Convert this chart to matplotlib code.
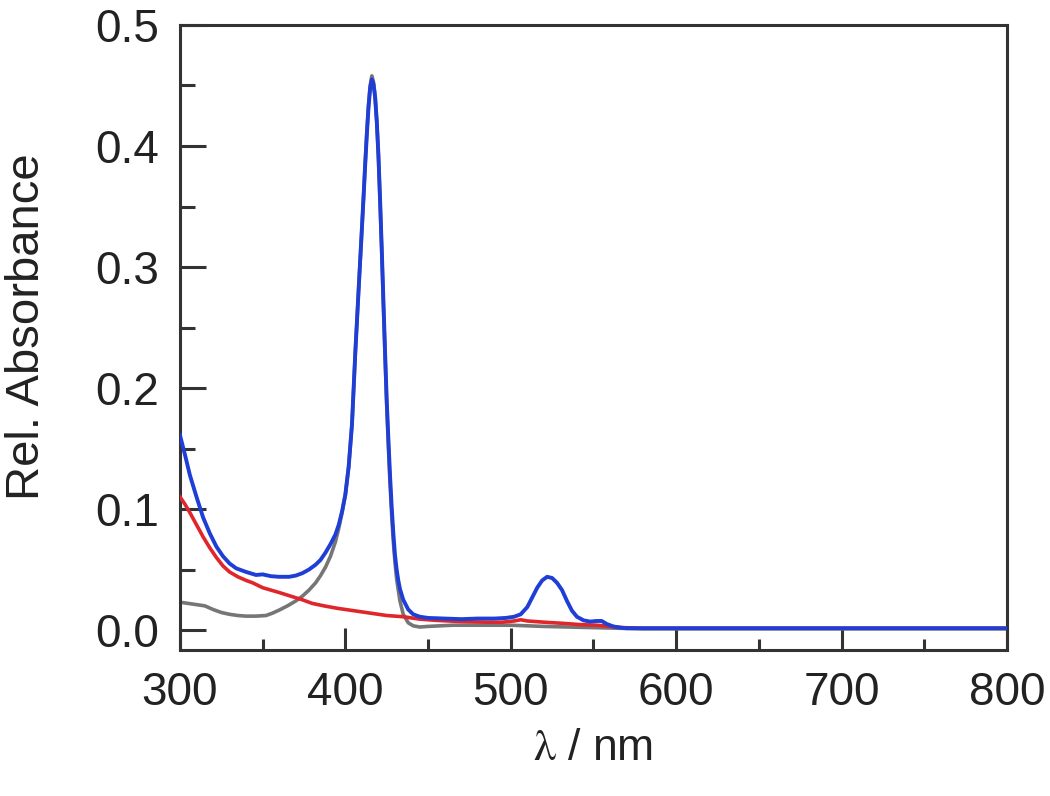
import matplotlib
matplotlib.use("Agg")
import matplotlib.pyplot as plt
from matplotlib.ticker import MultipleLocator

plt.rcParams['font.family'] = ['Liberation Sans', 'DejaVu Sans']
plt.rcParams['mathtext.fontset'] = 'stix'

# ---- data ----
blue_wl = [300, 303, 306, 310, 314, 318, 322, 326, 330, 334, 340, 346, 350, 355, 360, 366,
           370, 374, 378, 382, 385, 388, 391, 394, 396, 398, 400, 402, 404, 406, 408, 410,
           411, 412, 413, 414, 415, 416, 417, 418, 419, 420, 421, 422, 423, 424, 425, 426,
           427, 428, 429, 430, 431, 432, 433, 435, 438, 441, 445, 450, 460, 470, 480, 490,
           497, 502, 506, 510, 513, 516, 519, 522, 525, 528, 531, 534, 537, 540, 544, 548,
           552, 555, 558, 562, 566, 570, 600, 650, 700, 750, 800]
blue_abs = [0.161, 0.145, 0.128, 0.110, 0.093, 0.080, 0.069, 0.061, 0.055, 0.051, 0.048,
            0.0455, 0.046, 0.0445, 0.044, 0.044, 0.045, 0.047, 0.050, 0.054, 0.058, 0.064,
            0.071, 0.079, 0.087, 0.098, 0.112, 0.135, 0.170, 0.229, 0.281, 0.332, 0.358,
            0.385, 0.410, 0.432, 0.448, 0.455, 0.451, 0.440, 0.420, 0.392, 0.355, 0.315,
            0.272, 0.230, 0.190, 0.158, 0.128, 0.102, 0.080, 0.062, 0.050, 0.041, 0.034,
            0.025, 0.017, 0.013, 0.011, 0.010, 0.0095, 0.009, 0.0095, 0.0095, 0.010, 0.011,
            0.013, 0.019, 0.027, 0.035, 0.041, 0.044, 0.043, 0.039, 0.033, 0.024, 0.016,
            0.011, 0.008, 0.007, 0.0075, 0.0075, 0.005, 0.003, 0.002, 0.0015, 0.0015,
            0.0015, 0.0015, 0.0015, 0.0015]

gray_wl = [300, 305, 310, 315, 320, 325, 330, 335, 340, 346, 352, 356, 360, 365, 370, 374,
           378, 382, 385, 388, 391, 394, 396, 398, 400, 402, 404, 406, 408, 410, 411, 412,
           413, 414, 415, 416, 417, 418, 419, 420, 421, 422, 423, 424, 425, 426, 427, 428,
           429, 430, 431, 433, 435, 438, 441, 445, 450, 465, 480, 500, 520, 550, 580, 650,
           700, 800]
gray_abs = [0.023, 0.022, 0.021, 0.020, 0.017, 0.0145, 0.013, 0.012, 0.0115, 0.0115, 0.012,
            0.014, 0.0165, 0.020, 0.024, 0.028, 0.033, 0.039, 0.045, 0.052, 0.061, 0.073,
            0.084, 0.097, 0.112, 0.135, 0.170, 0.229, 0.281, 0.332, 0.358, 0.386, 0.412,
            0.434, 0.450, 0.458, 0.453, 0.441, 0.420, 0.391, 0.353, 0.312, 0.268, 0.226,
            0.186, 0.152, 0.121, 0.095, 0.073, 0.056, 0.042, 0.024, 0.013, 0.006, 0.0035,
            0.0025, 0.003, 0.004, 0.004, 0.004, 0.003, 0.002, 0.001, 0.001, 0.001, 0.001]

red_wl = [300, 303, 306, 310, 314, 318, 322, 326, 330, 335, 340, 344, 350, 355, 360, 367,
          374, 380, 387, 395, 405, 415, 425, 435, 445, 455, 470, 485, 495, 502, 506, 510,
          520, 532, 542, 552, 560, 568, 580, 650, 800]
red_abs = [0.110, 0.104, 0.097, 0.087, 0.077, 0.068, 0.060, 0.053, 0.048, 0.044, 0.041,
           0.039, 0.035, 0.033, 0.031, 0.028, 0.025, 0.022, 0.020, 0.018, 0.016, 0.014,
           0.012, 0.011, 0.009, 0.008, 0.007, 0.0065, 0.0065, 0.0075, 0.0085, 0.0075,
           0.0065, 0.0055, 0.0045, 0.004, 0.003, 0.002, 0.0015, 0.0015, 0.0015]

x_ticks = [300, 400, 500, 600, 700, 800]
y_ticks = [0.0, 0.1, 0.2, 0.3, 0.4, 0.5]

# ---- figure ----
fig = plt.figure(figsize=(10.5, 7.96), dpi=100)
ax = fig.add_axes([0.1714, 0.1834, 0.7876, 0.7852])

ax.plot(gray_wl, gray_abs, color='#767676', lw=2.6, zorder=2)
ax.plot(red_wl, red_abs, color='#e0262b', lw=2.6, zorder=3)
ax.plot(blue_wl, blue_abs, color='#1f3ed6', lw=2.8, zorder=4)

ax.set_xlim(300, 800)
ax.set_ylim(-0.0165, 0.5)
ax.set_xticks(x_ticks)
ax.set_xticklabels([str(v) for v in x_ticks])
ax.set_yticks(y_ticks)
ax.set_yticklabels([f"{v:.1f}" for v in y_ticks])
ax.xaxis.set_minor_locator(MultipleLocator(50))
ax.yaxis.set_minor_locator(MultipleLocator(0.05))

for s in ax.spines.values():
    s.set_linewidth(2.2)
    s.set_color('#333333')

ax.tick_params(axis='x', which='major', direction='in', length=16, width=2.2,
               color='#333333', labelsize=33, pad=15, labelcolor='#222222')
ax.tick_params(axis='x', which='minor', direction='in', length=8, width=2.2,
               color='#333333')
ax.tick_params(axis='y', which='major', direction='in', length=19, width=2.2,
               color='#333333', labelsize=33, pad=15, labelcolor='#222222')
ax.tick_params(axis='y', which='minor', direction='in', length=11, width=2.2,
               color='#333333')

ax.set_xlabel(r'$\mathrm{\lambda}$ / nm', fontsize=32, color='#222222')
ax.set_ylabel('Rel. Absorbance', fontsize=34, color='#222222')
ax.xaxis.set_label_coords(0.5, -0.125)
ax.yaxis.set_label_coords(-0.158, 0.517)

fig.savefig('out.png', dpi=100)
